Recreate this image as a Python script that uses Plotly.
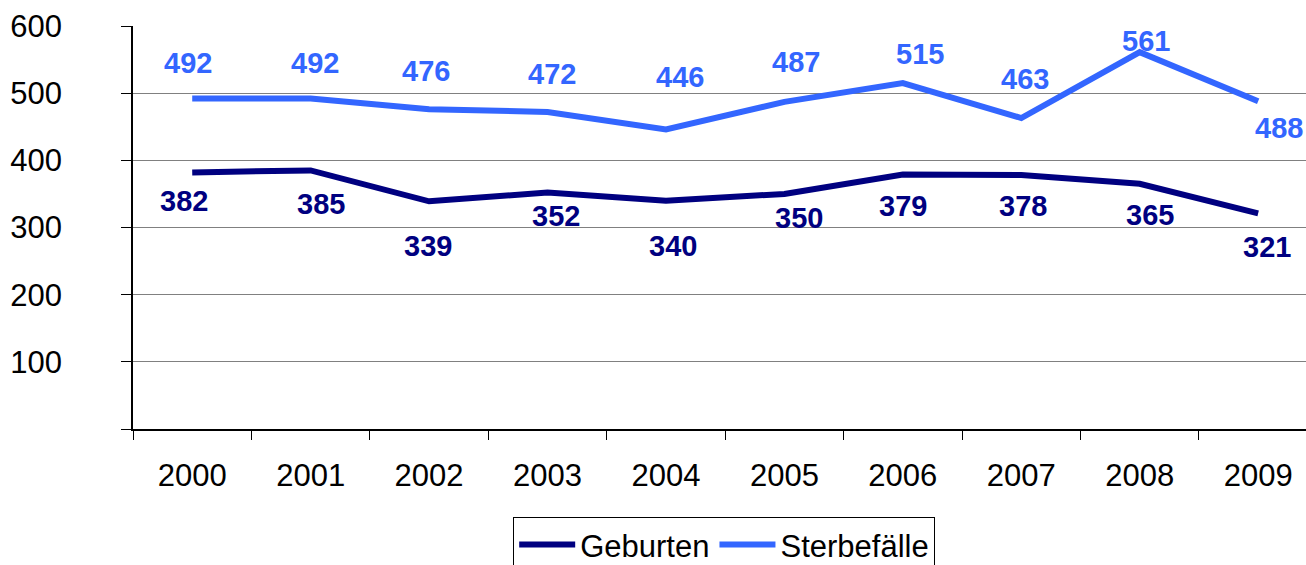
import plotly.graph_objects as go

# Jahreswerte
jahre = ["2000", "2001", "2002", "2003", "2004", "2005", "2006", "2007", "2008", "2009"]
geburten = [382, 385, 339, 352, 340, 350, 379, 378, 365, 321]
sterbefaelle = [492, 492, 476, 472, 446, 487, 515, 463, 561, 488]

y_ticks = [0, 100, 200, 300, 400, 500, 600]
y_ticktext = ["", "100", "200", "300", "400", "500", "600"]

NAVY = "#000080"
BLUE = "#3366FF"
FONT = "Liberation Sans, Arial, sans-serif"

# Pixel-Versatz der Wertbeschriftungen (dx, dy) je Punkt
geb_offsets = [(-8, -29), (10, -34), (-1, -45), (8, -23), (7, -45),
               (15, -24), (0, -32), (2, -31), (10, -31), (9, -34)]
ster_offsets = [(-4, 36), (4, 36), (-3, 38), (4, 38), (14, 52),
                (12, 40), (17, 29), (4, 39), (6, 11), (21, -27)]

fig = go.Figure()
fig.add_trace(go.Scatter(x=jahre, y=geburten, mode="lines", name="Geburten",
                         line=dict(color=NAVY, width=6)))
fig.add_trace(go.Scatter(x=jahre, y=sterbefaelle, mode="lines", name="Sterbefälle",
                         line=dict(color=BLUE, width=6)))

# Wertbeschriftungen: auf Kategorieachsen per Kategorie-Index positioniert
for i, (v, (dx, dy)) in enumerate(zip(geburten, geb_offsets)):
    fig.add_annotation(x=i, y=v, xref="x", yref="y", text="<b>%d</b>" % v,
                       showarrow=False, xshift=dx, yshift=dy,
                       font=dict(family=FONT, size=29, color=NAVY))
for i, (v, (dx, dy)) in enumerate(zip(sterbefaelle, ster_offsets)):
    fig.add_annotation(x=i, y=v, xref="x", yref="y", text="<b>%d</b>" % v,
                       showarrow=False, xshift=dx, yshift=dy,
                       font=dict(family=FONT, size=29, color=BLUE))

fig.update_layout(
    width=1306, height=565,
    margin=dict(l=133, r=0, t=26, b=136, autoexpand=False),
    paper_bgcolor="white", plot_bgcolor="white",
    font=dict(family=FONT, size=31, color="black"),
    showlegend=True,
    legend=dict(orientation="h", x=0.504, xanchor="center", y=-0.218, yanchor="top",
                bordercolor="black", borderwidth=1, itemwidth=56,
                font=dict(family=FONT, size=31, color="black"),
                tracegroupgap=0, itemclick=False),
    xaxis=dict(type="category", range=[-0.5, 9.404], showgrid=False,
               showline=True, linecolor="black", linewidth=1.5,
               ticks="outside", tickson="boundaries", ticklen=9, tickcolor="black",
               tickwidth=1, ticklabelstandoff=18, zeroline=False),
    yaxis=dict(range=[0, 600], tickvals=y_ticks, ticktext=y_ticktext,
               showgrid=True, gridcolor="#808080", gridwidth=1,
               showline=True, linecolor="black", linewidth=1.5,
               ticks="outside", ticklen=10, tickcolor="black", tickwidth=1,
               ticklabelstandoff=53, zeroline=False),
)

fig.write_html("out.html")
